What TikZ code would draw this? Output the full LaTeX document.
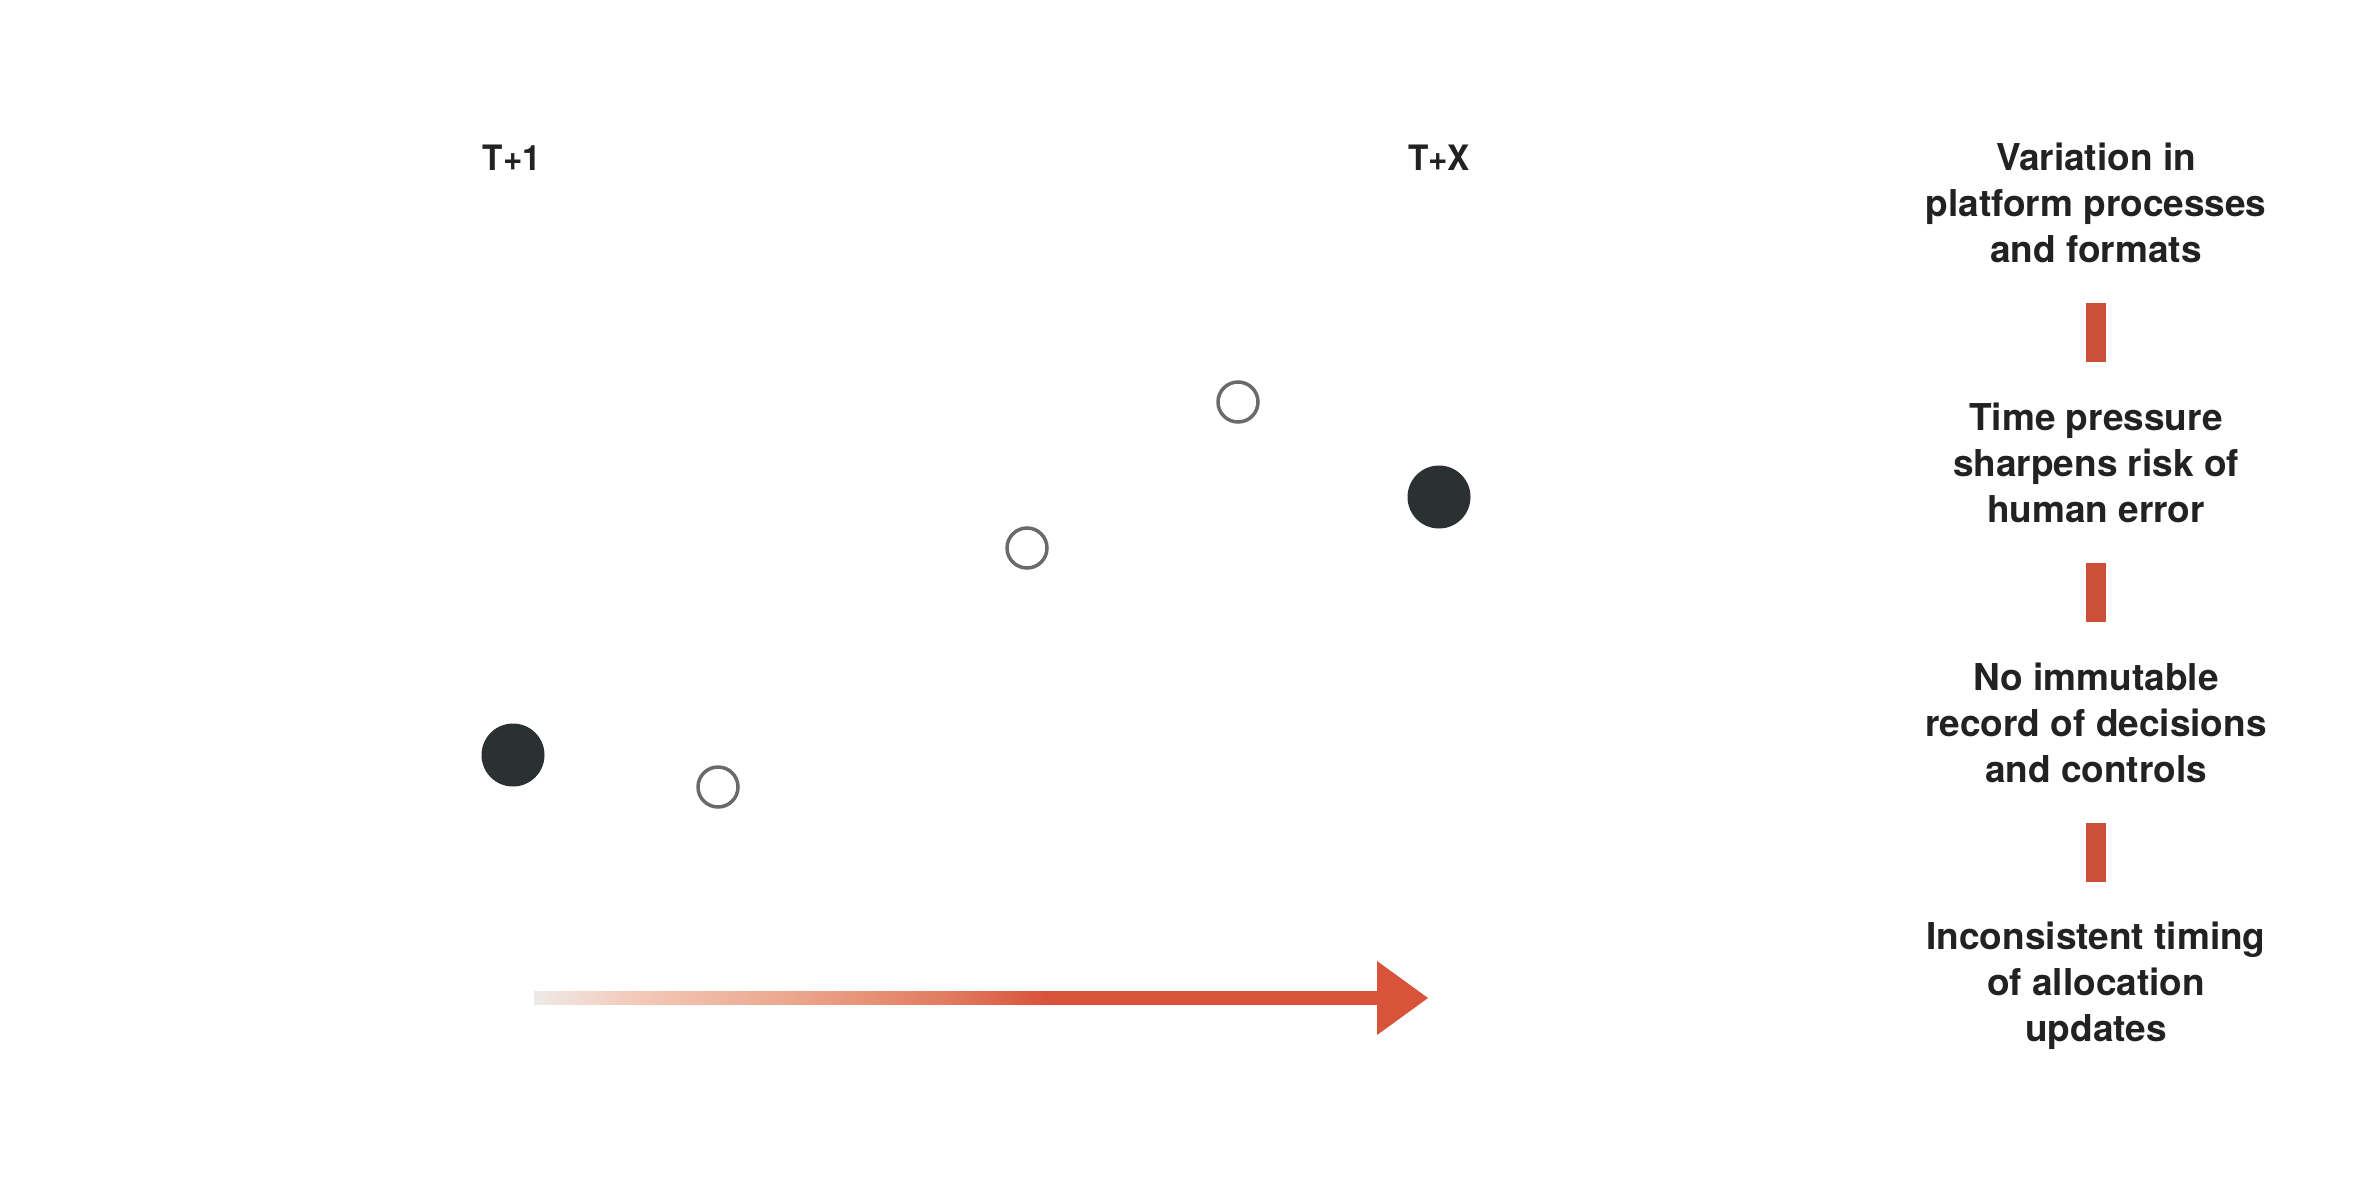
\documentclass[tikz,border=0pt]{standalone}
\usepackage{fontspec}
\setmainfont{TeX Gyre Heros}
\newfontfamily\labelfont{TeX Gyre Heros}[FakeStretch=0.95]
\usetikzlibrary{calc}
\definecolor{ink}{HTML}{222222}
\definecolor{dotink}{HTML}{2B3133}
\definecolor{ring}{HTML}{6A6A6A}
\definecolor{accent}{HTML}{D9523A}
\definecolor{barred}{HTML}{CC4F38}
\definecolor{fade}{HTML}{EEEAE7}
\definecolor{peach}{HTML}{F3C8B7}
\definecolor{salmon}{HTML}{EBA48A}
\definecolor{coral}{HTML}{E07A5E}
\pgfdeclarehorizontalshading{timefade}{100bp}{%
  color(0bp)=(fade); color(25bp)=(fade); color(31.3bp)=(peach);
  color(40.8bp)=(salmon); color(49.7bp)=(coral); color(55.4bp)=(accent);
  color(100bp)=(accent)}
\begin{document}
\begin{tikzpicture}[x=1pt,y=-1pt,
  filleddot/.style={circle, fill=dotink, draw=none, minimum size=63pt, inner sep=0pt},
  opendot/.style={circle, draw=ring, line width=3.5pt, fill=white, minimum size=40pt, inner sep=0pt},
  tlabel/.style={font=\labelfont\bfseries\fontsize{35}{40}\selectfont, text=ink, inner sep=0pt, anchor=base},
  risk/.style={font=\bfseries\fontsize{37}{46}\selectfont, text=ink, align=center, inner sep=0pt},
  riskbar/.style={rectangle, fill=barred, draw=none, minimum width=20pt, minimum height=59pt, inner sep=0pt}
]
\useasboundingbox (0,0) rectangle (2360,1194);
\fill[white] (0,0) rectangle (2360,1194);

% time labels
\node[tlabel] (t1) at (512,170) {T+1};
\node[tlabel] (tx) at (1439,170) {T+X};

% dots
\node[filleddot] (d1) at (513,755) {};
\node[opendot]   (o1) at (718,787) {};
\node[opendot]   (o2) at (1027,548) {};
\node[opendot]   (o3) at (1238,402) {};
\node[filleddot] (d2) at (1439,497) {};

% timeline arrow
\coordinate (arrS) at (534,998);
\coordinate (arrB) at (1377,998);
\coordinate (arrT) at (1428,998);
\shade[shading=timefade] ($(arrS)+(0,-6.5)$) rectangle ($(arrB)+(1,6.5)$);
\fill[accent] ($(arrB)+(0,-37)$) -- (arrT) -- ($(arrB)+(0,37)$) -- cycle;

% risk column
\node[risk] (r1) at (2096,202.9) {Variation in\\platform processes\\and formats};
\node[riskbar] (b1) at (2096,332.5) {};
\node[risk] (r2) at (2096,462.7) {Time pressure\\sharpens risk of\\human error};
\node[riskbar] (b2) at (2096,592.5) {};
\node[risk] (r3) at (2096,722.7) {No immutable\\record of decisions\\and controls};
\node[riskbar] (b3) at (2096,852.5) {};
\node[risk] (r4) at (2096,985.5) {Inconsistent timing\\of allocation\\updates};
\end{tikzpicture}
\end{document}
